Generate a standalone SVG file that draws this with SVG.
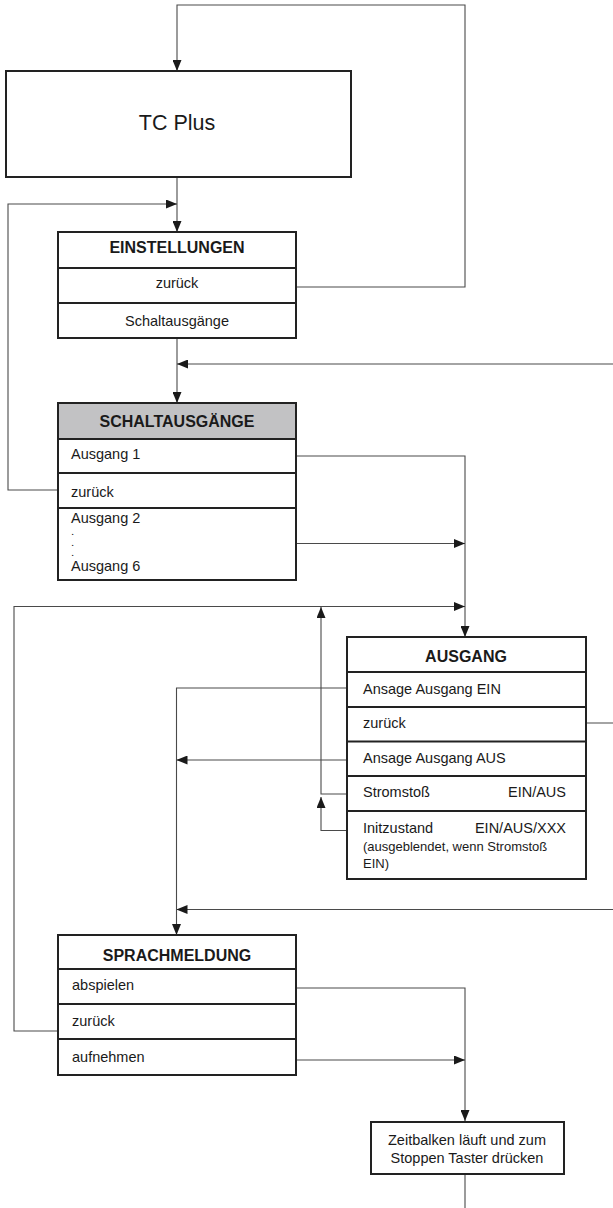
<svg xmlns="http://www.w3.org/2000/svg" width="613" height="1208" viewBox="0 0 613 1208">
  <style>
    .box { fill: #ffffff; stroke: #222222; stroke-width: 2; }
    .hdr { fill: #c2c2c4; stroke: #222222; stroke-width: 2; }
    .div { stroke: #222222; stroke-width: 2; fill: none; }
    .conn { fill: none; stroke: #4a4a4a; stroke-width: 1.1; }
    .arr { marker-end: url(#head); }
    text { font-family: "Liberation Sans", Arial, sans-serif; fill: #1a1a1a; }
    .title { font-size: 16px; font-weight: bold; text-anchor: middle; }
    .item { font-size: 14.5px; }
    .mid { text-anchor: middle; }
    .end { text-anchor: end; }
    .small { font-size: 13px; }
    .dot { font-size: 8px; font-weight: bold; }
    .big { font-size: 21.5px; text-anchor: middle; }
  </style>
  <defs>
    <marker id="head" viewBox="0 0 11 9" refX="11" refY="4.5" markerWidth="11" markerHeight="9" markerUnits="userSpaceOnUse" orient="auto">
      <path d="M0,0 L11,4.5 L0,9 Z" fill="#1a1a1a"/>
    </marker>
  </defs>

  <!-- connectors -->
  <g id="connectors">
    <!-- Einstellungen / zurück back to TC Plus -->
    <path class="conn arr" d="M296,287 H465 V5 H177 V71"/>
    <!-- TC Plus to Einstellungen -->
    <path class="conn arr" d="M177,177 V232"/>
    <!-- Schaltausgänge / zurück back to Einstellungen -->
    <path class="conn arr" d="M58,490 H8 V204 H177"/>
    <!-- Einstellungen / Schaltausgänge to Schaltausgänge menu -->
    <path class="conn arr" d="M177,338 V403"/>
    <!-- Ausgang / zurück back to Schaltausgänge -->
    <path class="conn arr" d="M586,723 H640 V364 H177"/>
    <!-- Ausgang 1 to Ausgang menu -->
    <path class="conn arr" d="M296,456 H465 V637"/>
    <!-- Ausgang 2..6 -->
    <path class="conn arr" d="M296,543.5 H465"/>
    <!-- Sprachmeldung / zurück back to Ausgang -->
    <path class="conn arr" d="M58,1031 H14 V606.5 H465"/>
    <!-- Stromstoß -->
    <path class="conn arr" d="M347,794 H321 V607"/>
    <!-- Initzustand -->
    <path class="conn arr" d="M347,830.5 H321 V797"/>
    <!-- Ansage Ausgang EIN to Sprachmeldung -->
    <path class="conn arr" d="M347,688 H176.5 V935"/>
    <!-- Ansage Ausgang AUS -->
    <path class="conn arr" d="M347,760 H176.5"/>
    <!-- Zeitbalken back to Sprachmeldung -->
    <path class="conn arr" d="M465,1174 V1240 H640 V909.5 H176.5"/>
    <!-- abspielen to Zeitbalken -->
    <path class="conn arr" d="M296,988 H465 V1121"/>
    <!-- aufnehmen -->
    <path class="conn arr" d="M296,1060 H465"/>
  </g>

  <!-- TC Plus -->
  <g id="tc-plus">
    <rect class="box" x="6" y="71" width="345" height="106"/>
    <text class="big" x="177" y="130">TC Plus</text>
  </g>

  <!-- Einstellungen -->
  <g id="einstellungen">
    <rect class="box" x="58" y="232" width="238" height="106"/>
    <line class="div" x1="58" y1="268" x2="296" y2="268"/>
    <line class="div" x1="58" y1="303" x2="296" y2="303"/>
    <text class="title" x="177" y="253">EINSTELLUNGEN</text>
    <text class="item mid" x="177" y="288">zurück</text>
    <text class="item mid" x="177" y="326">Schaltausgänge</text>
  </g>

  <!-- Schaltausgänge -->
  <g id="schaltausgaenge">
    <rect class="box" x="58" y="403" width="238" height="177"/>
    <rect class="hdr" x="58" y="403" width="238" height="36"/>
    <line class="div" x1="58" y1="473" x2="296" y2="473"/>
    <line class="div" x1="58" y1="508" x2="296" y2="508"/>
    <text class="title" x="177" y="427">SCHALTAUSGÄNGE</text>
    <text class="item" x="71" y="459">Ausgang 1</text>
    <text class="item" x="71" y="497">zurück</text>
    <text class="item" x="71" y="523">Ausgang 2</text>
    <text class="dot" x="71.5" y="534.5">.</text>
    <text class="dot" x="71.5" y="545.5">.</text>
    <text class="dot" x="71.5" y="556">.</text>
    <text class="item" x="71" y="571">Ausgang 6</text>
  </g>

  <!-- Ausgang -->
  <g id="ausgang">
    <rect class="box" x="347" y="637" width="239" height="242"/>
    <line class="div" x1="347" y1="672" x2="586" y2="672"/>
    <line class="div" x1="347" y1="707" x2="586" y2="707"/>
    <line class="div" x1="347" y1="741.5" x2="586" y2="741.5"/>
    <line class="div" x1="347" y1="776" x2="586" y2="776"/>
    <line class="div" x1="347" y1="811" x2="586" y2="811"/>
    <text class="title" x="466" y="662">AUSGANG</text>
    <text class="item" x="363" y="694">Ansage Ausgang EIN</text>
    <text class="item" x="363" y="728">zurück</text>
    <text class="item" x="363" y="763">Ansage Ausgang AUS</text>
    <text class="item" x="363" y="797">Stromstoß</text>
    <text class="item end" x="566" y="797">EIN/AUS</text>
    <text class="item" x="363" y="833">Initzustand</text>
    <text class="item end" x="566" y="833">EIN/AUS/XXX</text>
    <text class="small" x="363" y="851">(ausgeblendet, wenn Stromstoß</text>
    <text class="small" x="363" y="868">EIN)</text>
  </g>

  <!-- Sprachmeldung -->
  <g id="sprachmeldung">
    <rect class="box" x="58" y="935" width="238" height="140"/>
    <line class="div" x1="58" y1="969" x2="296" y2="969"/>
    <line class="div" x1="58" y1="1004" x2="296" y2="1004"/>
    <line class="div" x1="58" y1="1039" x2="296" y2="1039"/>
    <text class="title" x="177" y="961">SPRACHMELDUNG</text>
    <text class="item" x="72" y="990">abspielen</text>
    <text class="item" x="72" y="1026">zurück</text>
    <text class="item" x="72" y="1062">aufnehmen</text>
  </g>

  <!-- Zeitbalken -->
  <g id="zeitbalken">
    <rect class="box" x="371" y="1122" width="193" height="52"/>
    <text class="item mid" x="467" y="1145">Zeitbalken läuft und zum</text>
    <text class="item mid" x="467" y="1163">Stoppen Taster drücken</text>
  </g>
</svg>
